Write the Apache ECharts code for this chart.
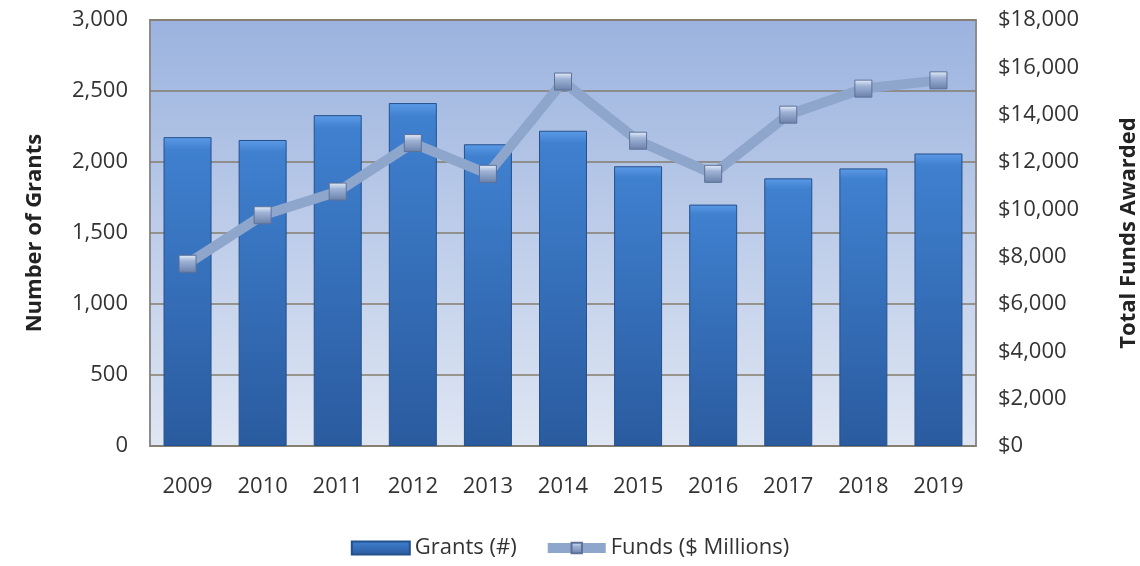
<!DOCTYPE html>
<html>
<head>
<meta charset="utf-8">
<script src="https://cdn.jsdelivr.net/npm/echarts@6/dist/echarts.min.js"></script>
<style>
  html, body { margin: 0; padding: 0; background: #fff; }
  #chart { width: 1140px; height: 566px; }
</style>
</head>
<body>
<div id="chart"></div>
<script>
// data
const years = ['2009', '2010', '2011', '2012', '2013', '2014', '2015', '2016', '2017', '2018', '2019'];
const grants = [2175, 2155, 2330, 2415, 2125, 2220, 1970, 1700, 1885, 1955, 2060];
const funds = [7700, 9750, 10750, 12800, 11500, 15400, 12900, 11500, 14000, 15100, 15450];

const font = '"Open Sans", Lato, sans-serif';
const fmt = v => v.toLocaleString('en-US');

const chart = echarts.init(document.getElementById('chart'));

const option = {
  animation: false,
  textStyle: { fontFamily: font },
  grid: {
    left: 150, right: 164, top: 20, bottom: 120,
    outerBoundsMode: 'none',
    show: true,
    borderColor: '#8c8c8c',
    borderWidth: 2,
    backgroundColor: new echarts.graphic.LinearGradient(0, 0, 0, 1, [
      { offset: 0, color: '#9bb3df' },
      { offset: 1, color: '#dfe6f3' }
    ])
  },
  legend: {
    bottom: 2,
    left: 'center',
    itemGap: 26,
    itemWidth: 58,
    itemHeight: 13,
    textStyle: { fontSize: 22, color: '#333', fontFamily: font },
    data: [
      { name: 'Grants (#)', icon: 'rect' },
      { name: 'Funds ($ Millions)', lineStyle: { width: 10, color: '#8ea5cc' } }
    ]
  },
  xAxis: {
    type: 'category',
    data: years,
    axisLine: { show: false },
    axisTick: { show: false },
    axisLabel: { fontSize: 22, color: '#333', margin: 30 }
  },
  yAxis: [
    {
      type: 'value',
      min: 0, max: 3000, interval: 500,
      name: 'Number of Grants',
      nameLocation: 'middle',
      nameGap: 104,
      nameTextStyle: { fontSize: 22, fontWeight: 'bold', color: '#222' },
      axisLine: { show: false },
      axisTick: { show: false },
      axisLabel: { fontSize: 22, color: '#333', margin: 22, formatter: fmt },
      splitLine: { lineStyle: { color: '#857c6c', width: 1.5 } }
    },
    {
      type: 'value',
      min: 0, max: 18000, interval: 2000,
      name: 'Total Funds Awarded',
      nameLocation: 'middle',
      nameGap: 142,
      nameRotate: 90,
      nameTextStyle: { fontSize: 22, fontWeight: 'bold', color: '#222' },
      axisLine: { show: false },
      axisTick: { show: false },
      axisLabel: { fontSize: 22, color: '#333', margin: 22, formatter: v => '$' + fmt(v) },
      splitLine: { show: false }
    }
  ],
  series: [
    {
      name: 'Grants (#)',
      type: 'bar',
      data: grants,
      barWidth: 48,
      itemStyle: {
        borderColor: '#24508c',
        borderWidth: 1,
        color: new echarts.graphic.LinearGradient(0, 0, 0, 1, [
          { offset: 0, color: '#5b9ae6' },
          { offset: 0.04, color: '#3f80cf' },
          { offset: 1, color: '#2a5b9f' }
        ])
      }
    },
    {
      name: 'Funds ($ Millions)',
      type: 'line',
      yAxisIndex: 1,
      data: funds,
      symbol: 'rect',
      symbolSize: 17,
      lineStyle: { color: '#8ea5cc', width: 10 },
      itemStyle: {
        borderColor: '#5d7199',
        borderWidth: 1,
        color: new echarts.graphic.LinearGradient(0, 0, 0, 1, [
          { offset: 0, color: '#e8f0fb' },
          { offset: 0.35, color: '#9fb3d6' },
          { offset: 1, color: '#6a80a8' }
        ])
      }
    }
  ]
};

chart.setOption(option);
</script>
</body>
</html>
